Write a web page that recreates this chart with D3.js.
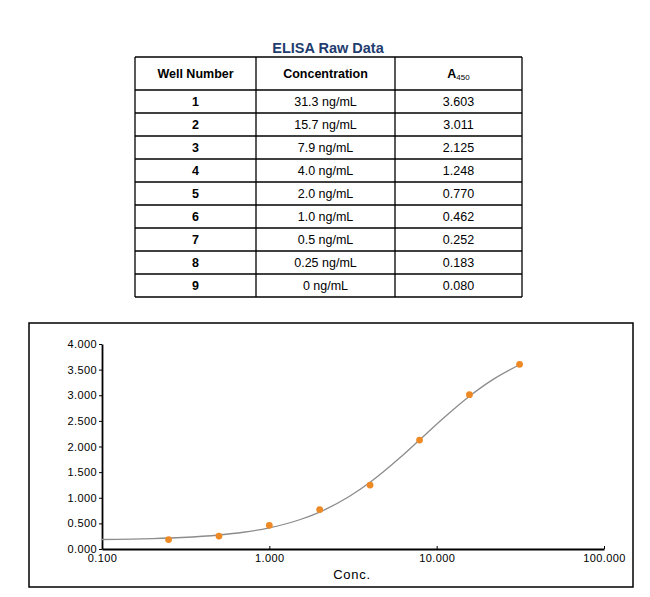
<!DOCTYPE html>
<html>
<head>
<meta charset="utf-8">
<script src="https://cdn.jsdelivr.net/npm/d3@7"></script>
<style>
  body { margin: 0; background: #fff; }
  svg { font-family: "Liberation Sans", Arial, Helvetica, sans-serif; }
</style>
</head>
<body>
<div id="chart"></div>
<script>
// table data
var wells = ["1", "2", "3", "4", "5", "6", "7", "8", "9"];
var concLabels = ["31.3 ng/mL", "15.7 ng/mL", "7.9 ng/mL", "4.0 ng/mL", "2.0 ng/mL",
                  "1.0 ng/mL", "0.5 ng/mL", "0.25 ng/mL", "0 ng/mL"];
var absLabels = ["3.603", "3.011", "2.125", "1.248", "0.770", "0.462", "0.252", "0.183", "0.080"];

// plotted points (0 ng/mL is not on the log axis)
var conc = [31.3, 15.7, 7.9, 4.0, 2.0, 1.0, 0.5, 0.25];
var absorb = [3.603, 3.011, 2.125, 1.248, 0.770, 0.462, 0.252, 0.183];

// fitted curve
var curveConc = [0.1, 0.2, 0.3, 0.5, 0.7, 1, 1.5, 2, 3, 4, 6, 8, 11, 15.7, 22, 31.3];
var curveAbs = [0.185, 0.203, 0.224, 0.273, 0.327, 0.414, 0.566, 0.721, 1.023, 1.301,
                1.774, 2.145, 2.557, 2.982, 3.320, 3.595];

var xTicks = [0.1, 1, 10, 100];
var yTicks = [0, 0.5, 1, 1.5, 2, 2.5, 3, 3.5, 4];

var svg = d3.select("#chart")
  .append("svg")
    .attr("width", 650)
    .attr("height", 597);

// ---------- table ----------
var colEdges = [135, 256, 395, 522];
var headTop = 57, headBottom = 90, rowH = 23;

svg.append("text")
  .attr("x", 328)
  .attr("y", 52.5)
  .attr("text-anchor", "middle")
  .style("font-size", "14.5px")
  .style("font-weight", "bold")
  .style("fill", "#1f3d6e")
  .text("ELISA Raw Data");

var tableBottom = headBottom + rowH * wells.length;
var tg = svg.append("g");

// horizontal lines
var hLines = [headTop, headBottom].concat(wells.map(function(d, i) { return headBottom + rowH * (i + 1); }));
tg.selectAll("line.h")
  .data(hLines)
  .enter().append("line")
    .attr("x1", colEdges[0]).attr("x2", colEdges[3])
    .attr("y1", function(d) { return d; }).attr("y2", function(d) { return d; })
    .attr("stroke", "#000").attr("stroke-width", 1.3);

tg.selectAll("line.v")
  .data(colEdges)
  .enter().append("line")
    .attr("x1", function(d) { return d; }).attr("x2", function(d) { return d; })
    .attr("y1", headTop).attr("y2", tableBottom)
    .attr("stroke", "#000").attr("stroke-width", 1.3);

var colMid = [0, 1, 2].map(function(i) { return (colEdges[i] + colEdges[i + 1]) / 2; });

// header
tg.append("text").attr("x", colMid[0]).attr("y", (headTop + headBottom) / 2 + 4.5)
  .attr("text-anchor", "middle").style("font-size", "12.5px").style("font-weight", "bold")
  .text("Well Number");
tg.append("text").attr("x", colMid[1]).attr("y", (headTop + headBottom) / 2 + 4.5)
  .attr("text-anchor", "middle").style("font-size", "12.5px").style("font-weight", "bold")
  .text("Concentration");
var aHead = tg.append("text").attr("x", colMid[2]).attr("y", (headTop + headBottom) / 2 + 4.5)
  .attr("text-anchor", "middle").style("font-size", "12.5px").style("font-weight", "bold");
aHead.append("tspan").text("A");
aHead.append("tspan").attr("dy", 2).style("font-size", "8px").style("font-weight", "normal").text("450");

// rows
wells.forEach(function(w, i) {
  var cy = headBottom + rowH * i + rowH / 2 + 4.5;
  tg.append("text").attr("x", colMid[0]).attr("y", cy).attr("text-anchor", "middle")
    .style("font-size", "12.5px").style("font-weight", "bold").text(w);
  tg.append("text").attr("x", colMid[1]).attr("y", cy).attr("text-anchor", "middle")
    .style("font-size", "12.5px").text(concLabels[i]);
  tg.append("text").attr("x", colMid[2]).attr("y", cy).attr("text-anchor", "middle")
    .style("font-size", "12.5px").text(absLabels[i]);
});

// ---------- chart ----------
svg.append("rect")
  .attr("x", 29).attr("y", 323)
  .attr("width", 604).attr("height", 264)
  .attr("fill", "none").attr("stroke", "#000").attr("stroke-width", 1.5);

var x = d3.scaleLog().domain([0.1, 100]).range([102, 604]);
var y = d3.scaleLinear().domain([0, 4]).range([549, 344]);
var fmt = d3.format(".3f");

var xAxis = svg.append("g")
  .attr("transform", "translate(0,549)")
  .call(d3.axisBottom(x).tickValues(xTicks).tickFormat(fmt).tickSizeInner(-3).tickSizeOuter(0).tickPadding(5));
xAxis.select(".domain").attr("stroke-width", 1.8);
xAxis.selectAll("text").style("font-size", "11px").style("letter-spacing", "0.4px").style("fill", "#000");

var yAxis = svg.append("g")
  .attr("transform", "translate(102,0)")
  .call(d3.axisLeft(y).tickValues(yTicks).tickFormat(fmt).tickSizeInner(3).tickSizeOuter(0).tickPadding(2));
yAxis.select(".domain").attr("stroke-width", 1.8);
yAxis.selectAll("text").style("font-size", "11px").style("letter-spacing", "0.4px").style("fill", "#000");

svg.append("text")
  .attr("x", 352)
  .attr("y", 578.5)
  .attr("text-anchor", "middle")
  .style("font-size", "13px")
  .style("letter-spacing", "0.7px")
  .text("Conc.");

// fitted curve
var line = d3.line()
  .x(function(d, i) { return x(curveConc[i]); })
  .y(function(d) { return y(d); })
  .curve(d3.curveMonotoneX);

svg.append("path")
  .datum(curveAbs)
  .attr("d", line)
  .attr("fill", "none")
  .attr("stroke", "#8c8c8c")
  .attr("stroke-width", 1.3);

// points
svg.append("g")
  .selectAll("circle")
  .data(absorb)
  .enter().append("circle")
    .attr("cx", function(d, i) { return x(conc[i]); })
    .attr("cy", function(d) { return y(d); })
    .attr("r", 3.4)
    .attr("fill", "#ee8a26");
</script>
</body>
</html>
